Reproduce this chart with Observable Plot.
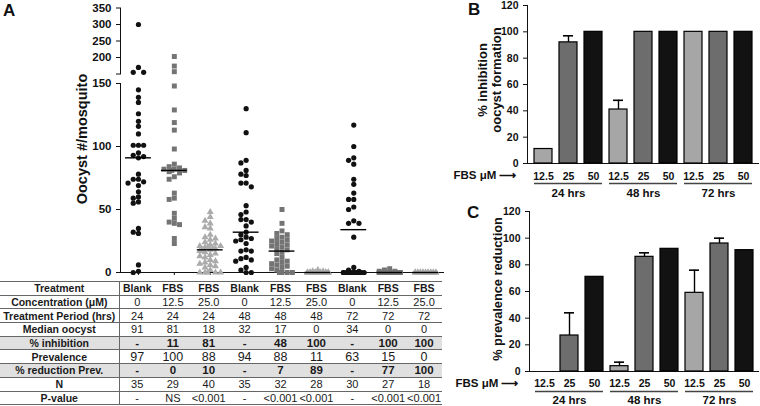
<!DOCTYPE html>
<html><head><meta charset="utf-8">
<script src="https://cdn.jsdelivr.net/npm/d3@7"></script>
<script src="https://cdn.jsdelivr.net/npm/@observablehq/plot@0.6"></script>
<style>
body{margin:0;background:#fff;}
#root{position:relative;width:760px;height:406px;overflow:hidden;font-family:"Liberation Sans",Arial,sans-serif;color:#111;}
.letter{position:absolute;font-weight:bold;font-size:17px;line-height:1;}
.ytitle{position:absolute;font-weight:bold;white-space:nowrap;text-align:center;transform:translate(-50%,-50%) rotate(-90deg);line-height:1.1;}
svg{overflow:visible;}
table{position:absolute;left:0;top:281px;width:442px;border-collapse:collapse;table-layout:fixed;font-size:11px;}
td{padding:0;height:12.7px;line-height:12px;text-align:center;border-top:1px solid #666;white-space:nowrap;overflow:visible;color:#1a1a1a;}
tr:last-child td{border-bottom:1px solid #666;}
td.lab{font-weight:bold;font-size:10.5px;border-right:1px solid #666;}
tr.shade td{background:#e0e0e0;}
</style></head><body><div id="root"></div>
<script>
// ---------- Panel A data ----------
const groupTreatment = ["Blank","FBS","FBS","Blank","FBS","FBS","Blank","FBS","FBS"];
const groupConcentration = ["0","12.5","25.0","0","12.5","25.0","0","12.5","25.0"];
const groupPeriod = ["24","24","24","48","48","48","72","72","72"];
const medianOocyst = [91,81,18,32,17,0,34,0,0];
const pctInhibition = ["-","11","81","-","48","100","-","100","100"];
const prevalence = [97,100,88,94,88,11,63,15,0];
const pctReductionPrev = ["-","0","10","-","7","89","-","77","100"];
const nMosquitoes = [35,29,40,35,32,28,30,27,18];
const pValue = ["-","NS","<0.001","-","<0.001","<0.001","-","<0.001","<0.001"];

const oocystBlank24 = [300,170,155,155,145,139,135,126,120,116,110,101,101,101,95,93,92,91,78,74,74,72,71,69,64,60,59,56,55,35,32,31,6,1,0];
const oocystFBS125_24 = [203,174,157,148,129,119,113,98,86,84,83,82,82,81,81,80,79,76,74,63,59,58,47,43,40,39,38,27,23];
const oocystFBS25_24 = [48,44,41,39,36,35,30,28,27,26,24,23,22,21,21,20,20,19,19,18,18,17,16,15,14,13,12,10,9,8,7,6,5,4,2,0,0,0,0,0];
const oocystBlank48 = [130,111,89,87,81,78,77,71,71,68,53,48,46,42,42,40,37,32,30,28,27,26,25,23,18,17,17,12,11,10,9,4,2,0,0];
const oocystFBS125_48 = [50,39,33,31,30,28,27,26,25,24,23,22,21,20,19,18,16,15,12,10,9,8,7,6,5,4,3,2,0,0,0,0];
const oocystFBS25_48 = [2,1,1,0,0,0,0,0,0,0,0,0,0,0,0,0,0,0,0,0,0,0,0,0,0,0,0,0];
const oocystBlank72 = [117,100,91,89,86,74,70,63,58,58,52,50,41,39,39,28,4,2,1,0,0,0,0,0,0,0,0,0,0,0];
const oocystFBS125_72 = [3,2,1,1,0,0,0,0,0,0,0,0,0,0,0,0,0,0,0,0,0,0,0,0,0,0,0];
const oocystFBS25_72 = [0,0,0,0,0,0,0,0,0,0,0,0,0,0,0,0,0,0];
const oocystGroups = [oocystBlank24,oocystFBS125_24,oocystFBS25_24,oocystBlank48,oocystFBS125_48,oocystFBS25_48,oocystBlank72,oocystFBS125_72,oocystFBS25_72];

const yTicksLower = [0,50,100,150];
const yTicksUpper = [150,200,250,300,350];

// ---------- Panels B & C data ----------
const barPeriods = ["24 hrs","48 hrs","72 hrs"];
const barConcs = ["12.5","25","50"];
const inhibitionMean = [11,92,100,41,100,100,100,100,100];
const inhibitionSem  = [0,5,0,7,0,0,0,0,0];
const prevReductionMean = [0,27,71,4,86,92,59,96,91];
const prevReductionSem  = [0,17,0,3,3,0,17,4,0];
const yTicksBars = [0,20,40,60,80,100,120];

// ---------- helpers ----------
const root = document.getElementById("root");
function put(el, left, top){ el.style.position="absolute"; el.style.left=left+"px"; el.style.top=top+"px"; root.appendChild(el); return el; }
const svgStyle = (fs) => ({fontFamily:"Liberation Sans, Arial, sans-serif", fontSize: fs, fontWeight:"bold", background:"transparent", overflow:"visible", maxWidth:"none", color:"#111"});

const symbolFor = {"0":"circle","12.5":"square","25.0":"triangle"};
const fillFor = {"0":"#111","12.5":"#747474","25.0":"#ababab"};
const rFor = {"0":2.6,"12.5":2.8,"25.0":2.6};

// beeswarm-like horizontal spreading (layout only)
const pxPerUnitX = 323/9;
function layoutGroup(values, gi){
  const sorted = values.slice().sort((a,b)=>b-a);
  const placed = [];
  const order = [0,-1,1,-2,2,-0.5,0.5,-1.5,1.5];
  for (const v of sorted){
    const py = v <= 150 ? v*1.26 : 199 + (v-150)*0.33;
    const near = placed.filter(p => Math.abs(p.py-py) < 5);
    const used = new Set(near.map(p=>p.slot));
    let slot = order.find(s=>!used.has(s));
    if (slot === undefined) slot = order[near.length % order.length];
    placed.push({v, py, slot, gi, x: gi + slot*5.2/pxPerUnitX});
  }
  return placed;
}
const points = oocystGroups.map((vals,gi)=>layoutGroup(vals,gi));
const groupIdx = groupTreatment.map((d,i)=>i);

function dotMarks(filterFn){
  return points.map((pts,gi)=>{
    const c = groupConcentration[gi];
    return Plot.dot(pts.filter(filterFn), {x:"x", y:"v", symbol: symbolFor[c], r: rFor[c], fill: fillFor[c], stroke: "none"});
  });
}

// ---------- Panel A : upper (broken) segment ----------
const upperA = Plot.plot({
  width: 450, height: 80, marginLeft: 120, marginRight: 7, marginTop: 7.5, marginBottom: 6.5,
  style: svgStyle("11.5px"),
  x: {type:"linear", domain:[-0.5, 8.5], axis: null},
  y: {domain:[150,350], ticks: yTicksUpper, tickFormat: d => d===150 ? "" : d, tickSize: 4, line: true, label: null},
  marks: dotMarks(p => p.v > 150)
});
put(upperA, 0, 0);

// ---------- Panel A : lower segment ----------
const lowerA = Plot.plot({
  width: 450, height: 280, marginLeft: 120, marginRight: 7, marginTop: 83, marginBottom: 8,
  style: svgStyle("11.5px"),
  x: {type:"linear", domain:[-0.5, 8.5], ticks: groupIdx, tickFormat: () => "", tickSize: 3, line: true, label: null},
  y: {domain:[0,150], ticks: yTicksLower, tickSize: 4, line: true, label: null},
  marks: [
    ...dotMarks(p => p.v <= 150),
    Plot.ruleY(groupIdx, {y: i => medianOocyst[i], x1: i => i-0.36, x2: i => i+0.36, stroke:"#000", strokeWidth:1.4})
  ]
});
put(lowerA, 0, 0);

// ---------- Table ----------
const tableRows = [
  ["Treatment", groupTreatment],
  ["Concentration (μM)", groupConcentration],
  ["Treatment Period (hrs)", groupPeriod],
  ["Median oocyst", medianOocyst],
  ["% inhibition", pctInhibition],
  ["Prevalence", prevalence],
  ["% reduction Prev.", pctReductionPrev],
  ["N", nMosquitoes],
  ["P-value", pValue]
];
const boldRows = new Set(["Treatment","% inhibition","% reduction Prev."]);
const shadeRows = new Set(["% inhibition","% reduction Prev."]);
const tbl = document.createElement("table");
const cg = document.createElement("colgroup");
cg.innerHTML = '<col style="width:119px">' + groupIdx.map(()=>'<col style="width:35.9px">').join("");
tbl.appendChild(cg);
for (const [label, vals] of tableRows){
  const tr = document.createElement("tr");
  if (shadeRows.has(label)) tr.className = "shade";
  const th = document.createElement("td"); th.className="lab"; th.textContent = label; tr.appendChild(th);
  for (const v of vals){
    const td = document.createElement("td"); td.textContent = v;
    if (boldRows.has(label)) { td.style.fontWeight = "bold"; td.style.fontSize = label==="Treatment" ? "10.5px" : "11.5px"; }
    if (label === "Prevalence") td.style.fontSize = "12.5px";
    tr.appendChild(td);
  }
  tbl.appendChild(tr);
}
root.appendChild(tbl);

// ---------- Bar panels ----------
function barPanel(mean, sem, o){
  const rows = barPeriods.flatMap((p,pi)=>barConcs.map((c,ci)=>({key:p+"|"+c, period:p, conc:c, v:mean[pi*3+ci], s:sem[pi*3+ci]})));
  const err = rows.filter(d=>d.s>0);
  return Plot.plot({
    width: 320, height: o.height, marginLeft: o.ml, marginRight: 2, marginTop: o.mt, marginBottom: o.mb,
    style: svgStyle("10.5px"),
    x: {domain: rows.map(d=>d.key), paddingInner: 0.3, paddingOuter: 0.15, tickSize: 0, tickPadding: o.tp, tickFormat: k => k.split("|")[1], line: true, label: null},
    y: {domain:[0,120], ticks: yTicksBars, tickSize: 4, line: true, label: null},
    color: {domain: barConcs, range: ["#a6a6a6","#6d6d6d","#121212"]},
    marks: [
      Plot.ruleX(err, {x:"key", y1:"v", y2: d=>d.v+d.s, stroke:"#000", strokeWidth:1.4}),
      Plot.tickY(err, {x:"key", y: d=>d.v+d.s, insetLeft:4, insetRight:4, stroke:"#000", strokeWidth:1.6}),
      Plot.barY(rows.filter(d=>d.v>0), {x:"key", y:"v", fill:"conc", stroke:"#000", strokeWidth:1.2}),
      Plot.ruleY(barPeriods, {x1: p=>p+"|12.5", x2: p=>p+"|50", y: () => 0, dy: 20, stroke:"#444", strokeWidth:1.3}),
      Plot.text(barPeriods, {x: p=>p+"|25", y: () => 0, dy: o.gdy, text: d=>d, fontSize: 11.5, fontWeight:"bold"}),
      Plot.text(["FBS μM ⟶"], {frameAnchor:"bottom-left", textAnchor:"end", text: d=>d, dx:-11, dy:o.fdy, fontSize:11.5, fontWeight:"bold"})
    ]
  });
}
put(barPanel(inhibitionMean, inhibitionSem, {height:200, ml:87, mt:5, mb:37, tp:9, gdy:30, fdy:15}), 440, 0);
put(barPanel(prevReductionMean, prevReductionSem, {height:206, ml:89, mt:11, mb:35, tp:8, gdy:29, fdy:15}), 440, 200);

// ---------- Labels ----------
function letter(t, l, tp){ const d=document.createElement("div"); d.className="letter"; d.textContent=t; d.style.left=l+"px"; d.style.top=tp+"px"; root.appendChild(d); }
letter("A", 3, 2); letter("B", 468, 1); letter("C", 467, 204);
function ytitle(html, cx, cy, fs){ const d=document.createElement("div"); d.className="ytitle"; d.innerHTML=html; d.style.left=cx+"px"; d.style.top=cy+"px"; d.style.fontSize=fs+"px"; root.appendChild(d); }
ytitle("Oocyst #/mosquito", 83, 139, 14.5);
ytitle("% inhibition<br>oocyst formation", 490, 80, 13);
ytitle("% prevalence reduction", 498, 289, 12.8);
</script></body></html>
